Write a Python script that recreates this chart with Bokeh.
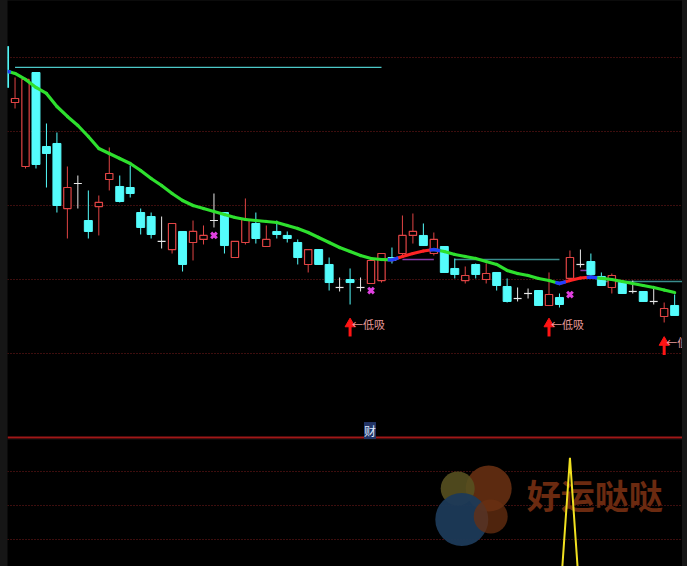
import numpy as np
from bokeh.plotting import figure
from bokeh.layouts import column
from bokeh.models import Range1d, FixedTicker, Span, Label, Grid
from bokeh.core.properties import value
from bokeh.embed import file_html
from bokeh.resources import INLINE

# ---------------- data ----------------
idx = list(range(65))
open_ = [12.149, 11.392, 10.527, 11.797, 10.797, 10.838, 9.959, 10.297, 9.797, 9.986,
         10.351, 10.257, 10.243, 9.905, 9.851, 9.514, 9.405, 9.649, 9.500, 9.541,
         9.797, 9.905, 9.297, 9.500, 9.757, 9.446, 9.649, 9.595, 9.500, 9.203,
         9.405, 9.203, 8.892, 9.000, 8.892, 8.946, 8.986, 9.297, 9.351, 9.595,
         9.595, 9.351, 9.446, 9.149, 8.986, 9.203, 9.000, 9.095, 8.905, 8.743,
         8.811, 8.851, 8.649, 8.757, 9.014, 9.203, 9.243, 9.041, 8.892, 8.959,
         8.838, 8.838, 8.703, 8.500, 8.649]
high = [12.149, 11.730, 11.703, 11.797, 11.108, 10.986, 10.527, 10.405, 10.203, 10.135,
        10.784, 10.405, 10.541, 9.959, 9.905, 9.851, 9.757, 9.649, 9.797, 9.730,
        10.162, 9.905, 9.514, 10.095, 9.905, 9.730, 9.797, 9.649, 9.541, 9.405,
        9.405, 9.297, 9.027, 9.149, 9.027, 9.257, 9.351, 9.432, 9.865, 9.892,
        9.757, 9.635, 9.446, 9.284, 9.176, 9.216, 9.216, 9.095, 9.014, 8.892,
        8.878, 8.851, 9.095, 8.811, 9.392, 9.405, 9.351, 9.095, 9.081, 8.959,
        8.986, 8.838, 8.892, 8.689, 8.797]
low = [11.595, 11.311, 10.500, 10.500, 10.243, 9.905, 9.554, 9.959, 9.554, 9.595,
       10.203, 10.041, 10.108, 9.608, 9.554, 9.419, 9.351, 9.108, 9.257, 9.473,
       9.703, 9.351, 9.297, 9.473, 9.486, 9.446, 9.554, 9.500, 9.203, 9.095,
       9.203, 8.851, 8.838, 8.662, 8.838, 8.946, 8.959, 9.216, 9.324, 9.486,
       9.459, 9.324, 9.095, 9.014, 8.946, 9.014, 8.946, 8.851, 8.689, 8.703,
       8.743, 8.649, 8.649, 8.622, 9.000, 9.162, 9.054, 8.919, 8.811, 8.811,
       8.811, 8.703, 8.662, 8.419, 8.514]
close = [11.595, 11.446, 11.703, 10.554, 10.703, 10.000, 10.243, 10.297, 9.649, 10.041,
         10.432, 10.054, 10.162, 9.703, 9.608, 9.514, 9.757, 9.203, 9.649, 9.595,
         9.797, 9.459, 9.514, 9.811, 9.554, 9.541, 9.608, 9.554, 9.297, 9.405,
         9.203, 8.959, 8.892, 8.959, 8.892, 9.257, 9.351, 9.257, 9.595, 9.649,
         9.459, 9.541, 9.095, 9.068, 9.054, 9.068, 9.081, 8.919, 8.703, 8.743,
         8.811, 8.649, 8.797, 8.662, 9.297, 9.203, 9.068, 8.919, 9.054, 8.811,
         8.838, 8.703, 8.703, 8.608, 8.514]
ma = [11.824, 11.784, 11.703, 11.595, 11.514, 11.338, 11.203, 11.081, 10.932, 10.770,
      10.703, 10.635, 10.568, 10.473, 10.365, 10.270, 10.162, 10.068, 10.000, 9.959,
      9.919, 9.878, 9.838, 9.811, 9.797, 9.784, 9.770, 9.730, 9.689, 9.635,
      9.568, 9.500, 9.432, 9.378, 9.324, 9.284, 9.270, 9.264, 9.311, 9.351,
      9.385, 9.405, 9.378, 9.338, 9.311, 9.284, 9.243, 9.203, 9.122, 9.081,
      9.054, 9.014, 8.986, 8.946, 8.986, 9.020, 9.034, 9.014, 9.000, 8.973,
      8.946, 8.919, 8.892, 8.858, 8.824]
# horizontal reference lines: start index, end index, price
hl_start = [1, 43, 57]
hl_end = [36, 53, 65]
hl_price = [11.865, 9.270, 8.973]
pl_start = [38, 55]
pl_end = [41, 56]
pl_price = [9.270, 9.122]
# cross markers
x_idx = [20, 35, 54]
x_price = [9.595, 8.851, 8.797]
# buy signals
sig_idx = [33, 52, 63]
sig_price = [8.40, 8.40, 8.15]
sig_text = "←低吸"
main_grid = [8, 9, 10, 11, 12]
# lower panel indicator
sub_vals = [0, 0, 0, 0, 0, 0, 0, 0, 0, 0,
            0, 0, 0, 0, 0, 0, 0, 0, 0, 0,
            0, 0, 0, 0, 0, 0, 0, 0, 0, 0,
            0, 0, 0, 0, 0, 0, 0, 0, 0, 0,
            0, 0, 0, 0, 0, 0, 0, 0, 0, 0,
            0, 0, 0, 0, 88, 0, 0, 0, 0, 0,
            0, 0, 0, 0, 0]
sub_grid = [40, 60, 80]

# ---------------- styling ----------------
RED = "#e04444"
CYAN = "#54fcfc"
WHITE = "#e8e8e8"
GRID = "#7a1c1c"
W = 675
xr = Range1d(0.28, 0.28 + W / 10.47)

def make_fig(h, yr):
    f = figure(width=W, height=h, x_range=xr, y_range=yr, x_axis_type=None, y_axis_type=None,
               output_backend="svg", toolbar_location=None, background_fill_color="black",
               border_fill_color="black", min_border=0, outline_line_color=None)
    return f

p = make_fig(439, Range1d(6.838, 12.770))
p.add_layout(Grid(dimension=1, ticker=FixedTicker(ticks=main_grid), grid_line_color=GRID,
                  grid_line_dash="1 2", grid_line_width=1))

o = np.array(open_); c = np.array(close); hi = np.array(high); lo = np.array(low)
ix = np.array(idx, dtype=float)
up = c > o
dn = c < o
dj = c == o

# horizontal lines
p.segment(x0=hl_start[:1], x1=hl_end[:1], y0=hl_price[:1], y1=hl_price[:1], line_color="#4cc8c8", line_width=1.3)
p.segment(x0=hl_start[1:], x1=hl_end[1:], y0=hl_price[1:], y1=hl_price[1:], line_color="#3a8c8c", line_width=1.3)
p.segment(x0=pl_start, x1=pl_end, y0=pl_price, y1=pl_price, line_color="#8a3aa8", line_width=1.5)

# down candles
p.segment(x0=ix[dn], x1=ix[dn], y0=hi[dn], y1=lo[dn], line_color=CYAN, line_width=1)
p.vbar(x=ix[dn], width=0.76, top=o[dn], bottom=c[dn], fill_color=CYAN, line_color=CYAN, line_width=1)
# up candles (hollow)
p.segment(x0=ix[up], x1=ix[up], y0=hi[up], y1=lo[up], line_color=RED, line_width=1)
p.vbar(x=ix[up], width=0.70, top=c[up], bottom=o[up], fill_color="black", line_color=RED, line_width=1.2)
# doji
p.segment(x0=ix[dj], x1=ix[dj], y0=hi[dj], y1=lo[dj], line_color=WHITE, line_width=1)
p.segment(x0=ix[dj] - 0.38, x1=ix[dj] + 0.38, y0=o[dj], y1=o[dj], line_color=WHITE, line_width=1.2)

# moving average coloured by slope
m = np.array(ma)
seg_col = ["#2ee02e" if m[i + 1] < m[i] else "#ff2424" for i in range(len(m) - 1)]
p.segment(x0=ix[:-1], x1=ix[1:], y0=m[:-1], y1=m[1:], line_color=seg_col, line_width=3.2, line_cap="round")
d = np.sign(np.diff(m))
turns = [0] + [i for i in range(1, len(m) - 1) if d[i] != d[i - 1]]
for t in turns:
    xs = np.linspace(max(t - 0.4, 0), t + 0.6, 6)
    p.line(xs, np.interp(xs, ix, m), line_color="#2040ff", line_width=3.4)

# cross markers
p.scatter(x=x_idx, y=x_price, marker="x", size=8, line_color="#e040e0", line_width=3)

# buy signals
sp = np.array(sig_price)
p.segment(x0=sig_idx, x1=sig_idx, y0=sp - 0.17, y1=sp, line_color="#ff1414", line_width=3)
p.scatter(x=sig_idx, y=sp, marker="triangle", size=10, fill_color="#ff1414", line_color="#ff1414")
p.text(x=sig_idx, y=list(sp), text=[sig_text] * 3, x_offset=2, text_align="left",
       text_baseline="middle", text_color="#e89a9a", text_font_size="11px",
       text_font=value("Noto Sans CJK SC"))

# separator & sub-panel title
p.add_layout(Span(location=6.865, dimension="width", line_color="#a01818", line_width=2))
p.add_layout(Label(x=34.9, y=6.959, text="财", text_align="center", text_baseline="middle",
                   text_color="#dfe8ff", text_font_size="12px", text_font="Noto Sans CJK SC",
                   background_fill_color="#223466"))

# ---------------- lower panel ----------------
q = make_fig(127, Range1d(24.12, 98.82))
q.add_layout(Grid(dimension=1, ticker=FixedTicker(ticks=sub_grid), grid_line_color=GRID,
                  grid_line_dash="1 2", grid_line_width=1))
# watermark
q.scatter(x=[46.24], y=[70.0], size=46, fill_color="#5c2a10", line_color=None)
q.scatter(x=[43.28], y=[70.0], size=34, fill_color="#575020", fill_alpha=0.9, line_color=None)
q.scatter(x=[43.67], y=[51.8], size=53, fill_color="#1c3a58", fill_alpha=0.95, line_color=None)
q.scatter(x=[46.43], y=[53.5], size=34, fill_color="#6a3012", fill_alpha=0.75, line_color=None)
q.text(x=[56.37], y=[66.5], text=["好运哒哒"], text_align="center", text_baseline="middle",
       text_color="#6b2a10", text_font_size="34px", text_font_style="bold",
       text_font=value("Noto Sans CJK SC"))
q.line(x=idx, y=sub_vals, line_color="#f0e020", line_width=2)

layout = column(p, q, spacing=0)
html = file_html(layout, INLINE, title="chart")
html = html.replace("</head>",
                    "<style>html,body{background:#161616;margin:0;padding:0;}"
                    "body{padding-left:7px;}</style></head>", 1)
open("out.html", "w").write(html)
